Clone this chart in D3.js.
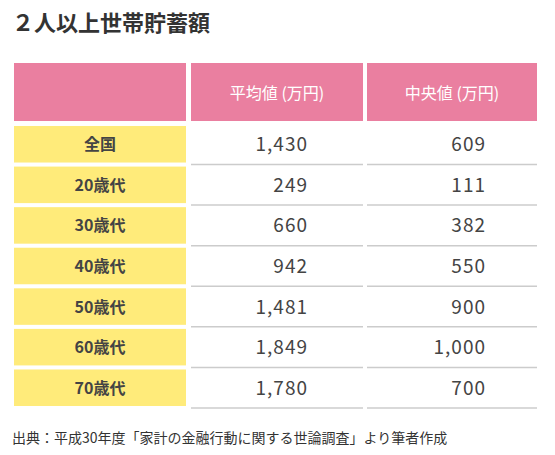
<!DOCTYPE html><html><head><meta charset="utf-8"><script src="https://cdn.jsdelivr.net/npm/d3@7"></script>
<style>body{margin:0;background:#fff}</style></head><body><svg id="c" width="555" height="455"></svg>
<script>
const title="２人以上世帯貯蓄額";
const headers=["平均値 (万円)","中央値 (万円)"];
const categories=["全国","20歳代","30歳代","40歳代","50歳代","60歳代","70歳代"];
const meanValues=[1430,249,660,942,1481,1849,1780];
const medianValues=[609,111,382,550,900,1000,700];
const source="出典：平成30年度「家計の金融行動に関する世論調査」より筆者作成";
const svg=d3.select("#c"),F="'Noto Sans CJK JP','Noto Sans',sans-serif",tc="#444";
svg.append("text").attr("x",12).attr("y",31).attr("font-family",F).attr("font-size",22).attr("font-weight",700).attr("fill","#333").text(title);
const colX=[14,191,367],colW=[172,172,170];
const y=d3.scaleBand().domain(categories).range([126,406]).paddingInner(0.1).paddingOuter(0);
// header
colX.forEach((x,i)=>svg.append("rect").attr("x",x).attr("y",63).attr("width",colW[i]).attr("height",58).attr("fill","#EA7FA0"));
headers.forEach((h,i)=>svg.append("text").attr("x",colX[i+1]+colW[i+1]/2).attr("y",99).attr("text-anchor","middle").attr("font-family",F).attr("font-size",16).attr("fill","#fff").text(h));
const fmt=d3.format(",");
categories.forEach((c,i)=>{
 const yy=y(c),h=y.bandwidth();
 svg.append("rect").attr("x",colX[0]).attr("y",yy).attr("width",colW[0]).attr("height",h).attr("fill","#FFEB7A");
 svg.append("text").attr("x",colX[0]+colW[0]/2).attr("y",yy+h/2+6).attr("text-anchor","middle").attr("font-family",F).attr("font-size",16).attr("font-weight",700).attr("fill",tc).text(c);
 [1,2].forEach(k=>svg.append("line").attr("x1",colX[k]).attr("x2",colX[k]+colW[k]).attr("y1",yy+h+2).attr("y2",yy+h+2).attr("stroke","#ccc").attr("stroke-width",1.5));
 svg.append("text").attr("x",308).attr("y",yy+h/2+7).attr("text-anchor","end").attr("font-family",F).attr("font-size",19).attr("letter-spacing",1).attr("fill",tc).text(fmt(meanValues[i]));
 svg.append("text").attr("x",486).attr("y",yy+h/2+7).attr("text-anchor","end").attr("font-family",F).attr("font-size",19).attr("letter-spacing",1).attr("fill",tc).text(fmt(medianValues[i]));
});
svg.append("text").attr("x",12).attr("y",443).attr("font-family",F).attr("font-size",14).attr("fill","#333").text(source);
</script></body></html>
